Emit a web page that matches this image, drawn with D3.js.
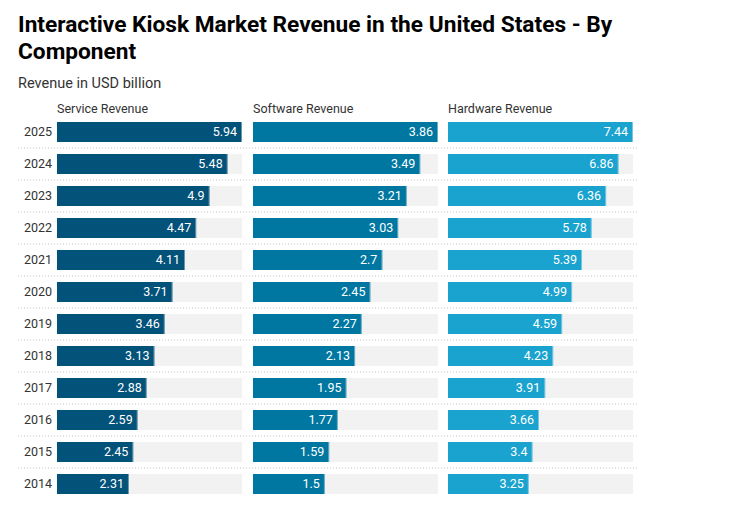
<!DOCTYPE html>
<html><head><meta charset="utf-8">
<script src="https://cdn.jsdelivr.net/npm/d3@7"></script>
<style>
body{margin:0;background:#fff;font-family:Roboto,"Noto Sans",sans-serif;}
</style></head>
<body><svg id="c" width="756" height="505"></svg>
<script>
const years = ["2025","2024","2023","2022","2021","2020","2019","2018","2017","2016","2015","2014"];
const serviceRevenue = [5.94,5.48,4.9,4.47,4.11,3.71,3.46,3.13,2.88,2.59,2.45,2.31];
const softwareRevenue = [3.86,3.49,3.21,3.03,2.7,2.45,2.27,2.13,1.95,1.77,1.59,1.5];
const hardwareRevenue = [7.44,6.86,6.36,5.78,5.39,4.99,4.59,4.23,3.91,3.66,3.4,3.25];
const seriesNames = ["Service Revenue","Software Revenue","Hardware Revenue"];
const seriesColors = ["#03527a","#0077a1","#1aa3cf"];
const seriesValues = [serviceRevenue, softwareRevenue, hardwareRevenue];

const svg = d3.select("#c");
svg.append("text").attr("x",18).attr("y",32).attr("font-size",22.7).attr("font-weight",700).attr("fill","#000")
  .text("Interactive Kiosk Market Revenue in the United States - By");
svg.append("text").attr("x",18).attr("y",59).attr("font-size",22.7).attr("font-weight",700).attr("fill","#000")
  .text("Component");
svg.append("text").attr("x",18).attr("y",88).attr("font-size",14.5).attr("fill","#333").text("Revenue in USD billion");

const y = d3.scaleBand().domain(years).range([116,500]).paddingInner(0.375).paddingOuter(0.1875);
const panelX = [57,253,448];
const panelW = 185;

years.slice(1).forEach(yr=>{
  const yy = y(yr) - (y.step()-y.bandwidth())/2;
  svg.append("line").attr("x1",18).attr("x2",637).attr("y1",yy).attr("y2",yy)
    .attr("stroke","#c8c8c8").attr("stroke-width",1).attr("stroke-dasharray","1,2");
});

svg.append("g").selectAll("text").data(years).join("text")
  .attr("x",52).attr("y",d=>y(d)+y.bandwidth()/2).attr("dy","0.35em")
  .attr("text-anchor","end").attr("font-size",12.5).attr("fill","#333").text(d=>d);

seriesValues.forEach((vals,i)=>{
  const x = d3.scaleLinear().domain([0,d3.max(vals)]).range([panelX[i],panelX[i]+panelW]);
  const g = svg.append("g");
  g.append("text").attr("x",panelX[i]).attr("y",113).attr("font-size",12.5).attr("fill","#333").text(seriesNames[i]);
  g.selectAll("rect.bg").data(years).join("rect").attr("class","bg")
    .attr("x",x(0)).attr("y",d=>y(d)).attr("width",x.range()[1]-x(0)).attr("height",y.bandwidth())
    .attr("fill","#f2f2f2");
  g.selectAll("rect.bar").data(vals).join("rect").attr("class","bar")
    .attr("x",x(0)).attr("y",(d,j)=>y(years[j])).attr("width",d=>x(d)-x(0)).attr("height",y.bandwidth())
    .attr("fill",seriesColors[i]);
  g.selectAll("line.edge").data(vals).join("line").attr("class","edge")
    .attr("x1",d=>x(d)-0.5).attr("x2",d=>x(d)-0.5).attr("y1",(d,j)=>y(years[j])).attr("y2",(d,j)=>y(years[j])+y.bandwidth())
    .attr("stroke","#fff").attr("stroke-opacity",0.4);
  g.selectAll("text.val").data(vals).join("text").attr("class","val")
    .attr("x",d=>x(d)-5).attr("y",(d,j)=>y(years[j])+y.bandwidth()/2).attr("dy","0.35em")
    .attr("text-anchor","end").attr("font-size",12.5).attr("fill","#fff").text(d=>d);
});
</script></body></html>
